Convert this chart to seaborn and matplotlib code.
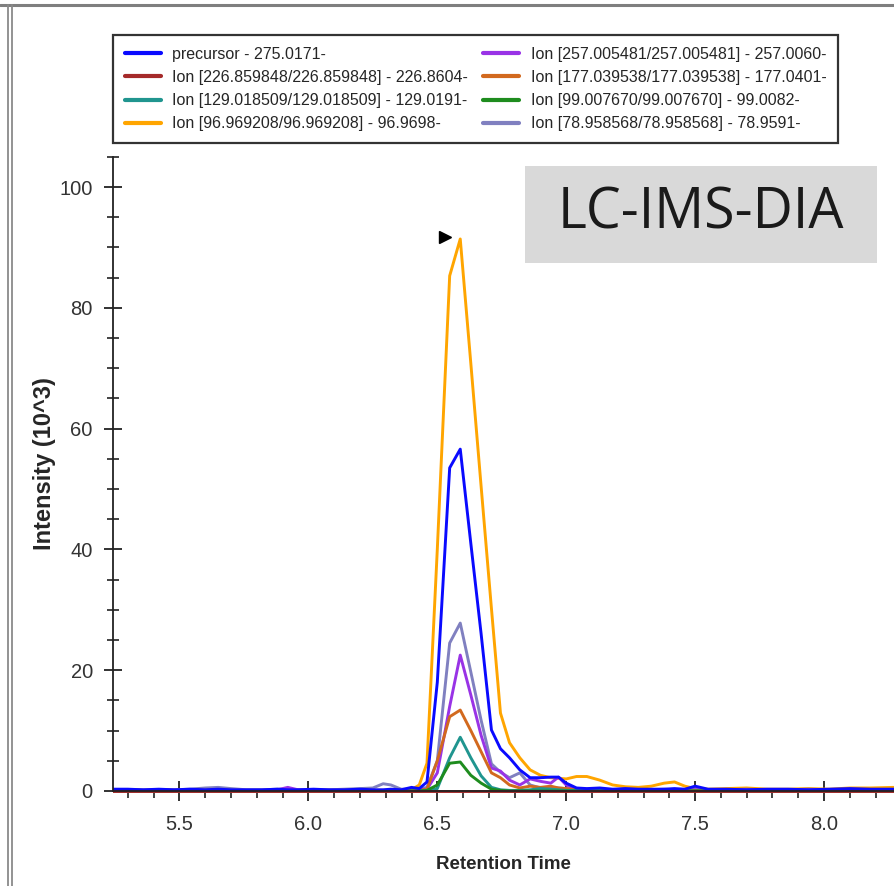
import numpy as np
import pandas as pd
import seaborn as sns
import matplotlib.pyplot as plt
from matplotlib.lines import Line2D
from matplotlib.patches import Rectangle
from matplotlib.ticker import MultipleLocator

# retention time grid (min) shared by all traces
rt = [5.24, 5.30, 5.36, 5.42, 5.48, 5.54, 5.60, 5.65, 5.70, 5.76,
      5.82, 5.88, 5.92, 5.96, 6.02, 6.08, 6.14, 6.20, 6.25, 6.29,
      6.32, 6.36, 6.40, 6.43, 6.46, 6.50, 6.548, 6.589, 6.63, 6.67,
      6.71, 6.745, 6.78, 6.82, 6.86, 6.90, 6.94, 6.97, 7.00, 7.04,
      7.08, 7.13, 7.18, 7.23, 7.28, 7.33, 7.38, 7.42, 7.46, 7.50,
      7.55, 7.62, 7.70, 7.78, 7.86, 7.94, 8.02, 8.10, 8.18, 8.27]

# intensities (10^3)
precursor = [0.3, 0.3, 0.2, 0.3, 0.2, 0.3, 0.2, 0.3, 0.2, 0.2,
             0.2, 0.3, 0.2, 0.2, 0.3, 0.2, 0.2, 0.3, 0.2, 0.2,
             0.3, 0.2, 0.6, 0.4, 1.5, 18.0, 53.5, 56.6, 41.0, 26.0,
             10.1, 7.0, 5.5, 3.5, 2.2, 2.2, 2.3, 2.3, 1.3, 0.5,
             0.4, 0.5, 0.3, 0.4, 0.3, 0.3, 0.3, 0.4, 0.3, 0.8,
             0.3, 0.3, 0.2, 0.3, 0.3, 0.2, 0.3, 0.4, 0.3, 0.3]
ion_226 = [0.05] * 60
ion_129 = [0.0, 0.0, 0.0, 0.0, 0.0, 0.0, 0.0, 0.0, 0.0, 0.0,
           0.0, 0.0, 0.0, 0.0, 0.0, 0.0, 0.0, 0.0, 0.0, 0.0,
           0.0, 0.0, 0.0, 0.0, 0.1, 0.4, 5.5, 8.9, 5.5, 2.5,
           0.6, 0.2, 0.1, 0.1, 0.2, 0.4, 0.3, 0.2, 0.1, 0.1,
           0.1, 0.1, 0.0, 0.0, 0.1, 0.0, 0.0, 0.1, 0.0, 0.0,
           0.0, 0.0, 0.0, 0.0, 0.0, 0.0, 0.0, 0.0, 0.0, 0.0]
ion_97 = [0.1, 0.2, 0.1, 0.1, 0.2, 0.1, 0.1, 0.2, 0.1, 0.1,
          0.1, 0.1, 0.2, 0.1, 0.1, 0.1, 0.2, 0.1, 0.1, 0.1,
          0.1, 0.2, 0.2, 1.0, 4.6, 40.0, 85.3, 91.4, 70.8, 50.4,
          30.2, 12.9, 8.0, 5.5, 3.5, 2.6, 2.2, 2.1, 2.0, 2.4,
          2.4, 1.8, 1.0, 0.7, 0.6, 0.8, 1.3, 1.5, 0.8, 0.4,
          0.3, 0.4, 0.5, 0.3, 0.3, 0.4, 0.3, 0.5, 0.5, 0.6]
ion_257 = [0.1, 0.1, 0.1, 0.2, 0.1, 0.1, 0.1, 0.1, 0.1, 0.1,
           0.1, 0.2, 0.6, 0.2, 0.1, 0.1, 0.1, 0.1, 0.1, 0.1,
           0.1, 0.1, 0.2, 0.2, 0.3, 3.0, 14.0, 22.5, 15.9, 9.2,
           3.8, 3.3, 1.8, 1.0, 2.0, 1.6, 1.3, 2.3, 1.0, 0.3,
           0.2, 0.2, 0.2, 0.2, 0.2, 0.2, 0.2, 0.2, 0.2, 0.2,
           0.2, 0.2, 0.2, 0.2, 0.2, 0.2, 0.2, 0.2, 0.2, 0.2]
ion_177 = [0.1, 0.1, 0.1, 0.1, 0.1, 0.1, 0.1, 0.1, 0.1, 0.1,
           0.1, 0.1, 0.1, 0.1, 0.1, 0.1, 0.1, 0.1, 0.1, 0.1,
           0.1, 0.1, 0.1, 0.1, 0.3, 5.0, 12.3, 13.4, 10.0, 6.5,
           3.0, 2.2, 1.0, 0.5, 0.8, 0.6, 0.8, 0.5, 0.4, 0.2,
           0.2, 0.1, 0.1, 0.1, 0.1, 0.1, 0.1, 0.1, 0.1, 0.1,
           0.1, 0.1, 0.1, 0.1, 0.1, 0.1, 0.1, 0.1, 0.1, 0.1]
ion_99 = [0.0, 0.0, 0.0, 0.0, 0.0, 0.0, 0.0, 0.0, 0.0, 0.0,
          0.0, 0.0, 0.0, 0.0, 0.0, 0.0, 0.0, 0.0, 0.0, 0.0,
          0.0, 0.0, 0.0, 0.0, 0.1, 1.0, 4.6, 4.8, 2.6, 1.3,
          0.3, 0.1, 0.0, 0.0, 0.0, 0.0, 0.0, 0.0, 0.0, 0.0,
          0.0, 0.0, 0.0, 0.0, 0.0, 0.0, 0.0, 0.0, 0.0, 0.0,
          0.0, 0.0, 0.0, 0.0, 0.0, 0.0, 0.0, 0.0, 0.0, 0.0]
ion_79 = [0.1, 0.2, 0.2, 0.1, 0.2, 0.3, 0.5, 0.6, 0.4, 0.2,
          0.2, 0.3, 0.3, 0.2, 0.2, 0.2, 0.3, 0.4, 0.5, 1.2,
          1.0, 0.3, 0.3, 0.3, 0.6, 5.0, 24.5, 27.8, 19.7, 11.7,
          4.5, 3.1, 2.2, 3.0, 1.0, 0.5, 0.6, 0.5, 0.4, 0.4,
          0.3, 0.3, 0.2, 0.3, 0.2, 0.2, 0.3, 0.2, 0.2, 0.3,
          0.2, 0.2, 0.3, 0.2, 0.2, 0.3, 0.2, 0.2, 0.2, 0.2]

labels = {
    "precursor": "precursor - 275.0171-",
    "ion_226": "Ion [226.859848/226.859848] - 226.8604-",
    "ion_129": "Ion [129.018509/129.018509] - 129.0191-",
    "ion_97": "Ion [96.969208/96.969208] - 96.9698-",
    "ion_257": "Ion [257.005481/257.005481] - 257.0060-",
    "ion_177": "Ion [177.039538/177.039538] - 177.0401-",
    "ion_99": "Ion [99.007670/99.007670] - 99.0082-",
    "ion_79": "Ion [78.958568/78.958568] - 78.9591-",
}
series = {
    "precursor": precursor, "ion_226": ion_226, "ion_129": ion_129,
    "ion_97": ion_97, "ion_257": ion_257, "ion_177": ion_177,
    "ion_99": ion_99, "ion_79": ion_79,
}
colors = {
    "precursor": "#0a0aff", "ion_226": "#a52a2a", "ion_129": "#20958f",
    "ion_97": "#ffa500", "ion_257": "#9933e6", "ion_177": "#d2691e",
    "ion_99": "#1e8c1e", "ion_79": "#8080c0",
}
legend_order = ["precursor", "ion_226", "ion_129", "ion_97",
                "ion_257", "ion_177", "ion_99", "ion_79"]
draw_order = ["ion_97", "ion_79", "ion_257", "ion_177", "ion_129",
              "ion_99", "ion_226", "precursor"]

sns.set_style("ticks")
plt.rcParams["font.family"] = ["Liberation Sans", "DejaVu Sans"]

fig = plt.figure(figsize=(8.94, 8.86), dpi=100)
ax = fig.add_axes([113 / 894, 0.1045, 781 / 894, 0.7219])

handles = {}
for key in draw_order:
    sns.lineplot(x=rt, y=series[key], ax=ax, color=colors[key], lw=2.1,
                 label=labels[key], legend=False)
    handles[key] = Line2D([0], [0], color=colors[key], lw=3)

# apex marker
ax.plot(6.531, 91.7, marker=">", color="black", ms=9, ls="none", clip_on=False)

ax.set_xlim(5.2422, 8.2713)
ax.set_ylim(-0.4, 105.5)
ax.spines["top"].set_visible(False)
ax.spines["right"].set_visible(False)
ax.spines["bottom"].set_position(("data", 0))
ax.spines["left"].set_bounds(0, 105)
for s in ("left", "bottom"):
    ax.spines[s].set_linewidth(1.3)
    ax.spines[s].set_color("#222222")

ax.xaxis.set_minor_locator(MultipleLocator(0.1))
ax.yaxis.set_major_locator(MultipleLocator(20))
ax.yaxis.set_minor_locator(MultipleLocator(5))
ax.set_xticks([5.5, 6.0, 6.5, 7.0, 7.5, 8.0])
ax.set_xticklabels(["5.5", "6.0", "6.5", "7.0", "7.5", "8.0"])
ax.tick_params(axis="x", which="major", direction="inout", length=14, width=1.3,
               pad=10, labelsize=14.5, labelcolor="#333333", color="#222222")
ax.tick_params(axis="x", which="minor", direction="out", length=5, width=1.2,
               color="#222222")
ax.tick_params(axis="y", which="major", direction="inout", length=13, width=1.3,
               pad=8, labelsize=14.5, labelcolor="#333333", color="#222222")
ax.tick_params(axis="y", which="minor", direction="inout", length=8, width=1.2,
               color="#222222")

ax.set_xlabel("Retention Time", fontsize=13.5, fontweight="bold")
ax.set_ylabel("Intensity (10^3)", fontsize=17, fontweight="bold")
ax.xaxis.set_label_coords(0.5, -0.098)
ax.yaxis.set_label_coords(-0.073, 0.515)

fig.legend([handles[k] for k in legend_order], [labels[k] for k in legend_order],
           ncol=2, loc="upper left", bbox_to_anchor=(113 / 894, 1 - 35 / 886),
           borderaxespad=0, fontsize=11.5, frameon=True, fancybox=False,
           edgecolor="#333333", framealpha=1, borderpad=0.72, labelspacing=0.52,
           handlelength=2.3, handletextpad=0.7, columnspacing=0.9)
fig.legends[0].get_frame().set_linewidth(1.6)

# method tag
fig.add_artist(Rectangle((525 / 894, 1 - 263 / 886), 352 / 894, 97 / 886,
                         transform=fig.transFigure, fc="#d9d9d9", ec="none", zorder=3))
fig.text(701 / 894, 1 - 214 / 886, "LC-IMS-DIA", fontsize=40,
         family=["Open Sans", "DejaVu Sans"], color="#1a1a1a",
         ha="center", va="center", zorder=4)

# window frame lines
fig.add_artist(Line2D([0, 1], [1 - 5 / 886] * 2, transform=fig.transFigure,
                      color="#7f7f7f", lw=2.2))
for xp in (8, 12):
    fig.add_artist(Line2D([xp / 894] * 2, [0, 1 - 5 / 886], transform=fig.transFigure,
                          color="#8a8a8a", lw=1.3))

fig.savefig("out.png", dpi=100)
